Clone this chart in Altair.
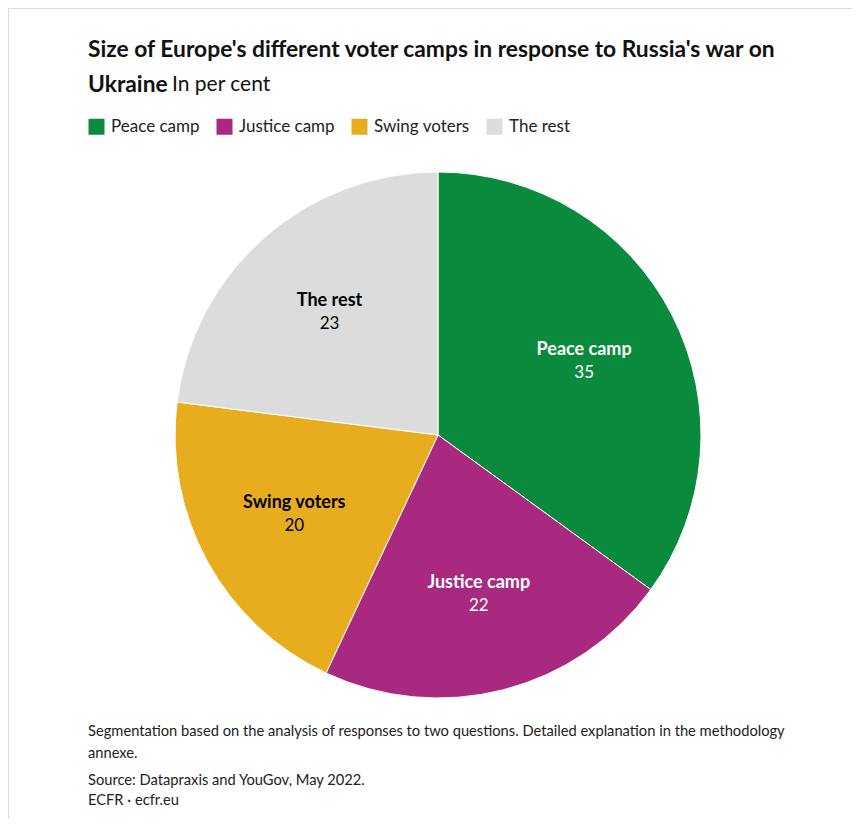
import altair as alt
import pandas as pd

categories = ["Peace camp", "Justice camp", "Swing voters", "The rest"]
values = [35, 22, 20, 23]
colors = ["#0a8a3c", "#a8297f", "#e8ad1f", "#dcdcdc"]
label_colors = ["white", "white", "black", "black"]

title_line1 = "Size of Europe's different voter camps in response to Russia's war on"
title_line2_bold = "Ukraine"
title_line2_rest = "In per cent"
notes = [
    "Segmentation based on the analysis of responses to two questions. Detailed explanation in the methodology",
    "annexe.",
]
source = ["Source: Datapraxis and YouGov, May 2022.", "ECFR · ecfr.eu"]

FONT = "Lato"
df = pd.DataFrame({
    "cat": categories,
    "value": values,
    "idx": list(range(len(categories))),
    "tcol": label_colors,
})

CX, CY, R = 430, 427, 263

base = alt.Chart(df).encode(
    theta=alt.Theta("value:Q", stack=True),
    order=alt.Order("idx:Q"),
)

arcs = base.mark_arc(radius=R, stroke="white", strokeWidth=1).encode(
    x=alt.value(CX), y=alt.value(CY),
    color=alt.Color(
        "cat:N",
        scale=alt.Scale(domain=categories, range=colors),
        sort=categories,
        legend=alt.Legend(
            title=None, orient="none", legendX=80, legendY=110,
            direction="horizontal", symbolType="square", symbolSize=256,
            symbolStrokeWidth=0, labelFontSize=17, labelFont=FONT,
            labelColor="#222", labelOffset=6, columnPadding=16,
        ),
    ),
)

names = base.mark_text(radius=164, dy=-11, font=FONT, fontSize=18, fontWeight="bold").encode(
    x=alt.value(CX), y=alt.value(CY),
    text="cat:N",
    color=alt.Color("tcol:N", scale=None, legend=None),
)
nums = base.mark_text(radius=164, dy=12, font=FONT, fontSize=17).encode(
    x=alt.value(CX), y=alt.value(CY),
    text="value:Q",
    color=alt.Color("tcol:N", scale=None, legend=None),
)


def note(text, x, y, size, weight="normal", color="#111"):
    return alt.Chart(alt.Data(values=[{}])).mark_text(
        text=text, align="left", baseline="middle", font=FONT,
        fontSize=size, fontWeight=weight, color=color,
    ).encode(x=alt.value(x), y=alt.value(y))


texts = [
    note(title_line1, 80, 42, 22.8, "bold"),
    note(title_line2_bold, 80, 77, 22.8, "bold"),
    note(title_line2_rest, 164, 77, 21, "normal"),
    note(notes[0], 80, 724, 14.7, color="#222"),
    note(notes[1], 80, 746, 14.7, color="#222"),
    note(source[0], 80, 773, 14.7, color="#222"),
    note(source[1], 80, 793, 14.7, color="#222"),
]

chart = alt.layer(arcs, names, nums, *texts).resolve_scale(color="independent").properties(
    width=844, height=811,
    autosize=alt.AutoSizeParams(type="none"),
    padding=0,
).configure_view(stroke=None).configure(background="white")

chart.save("out.html", embed_options={"renderer": "svg", "actions": False})
